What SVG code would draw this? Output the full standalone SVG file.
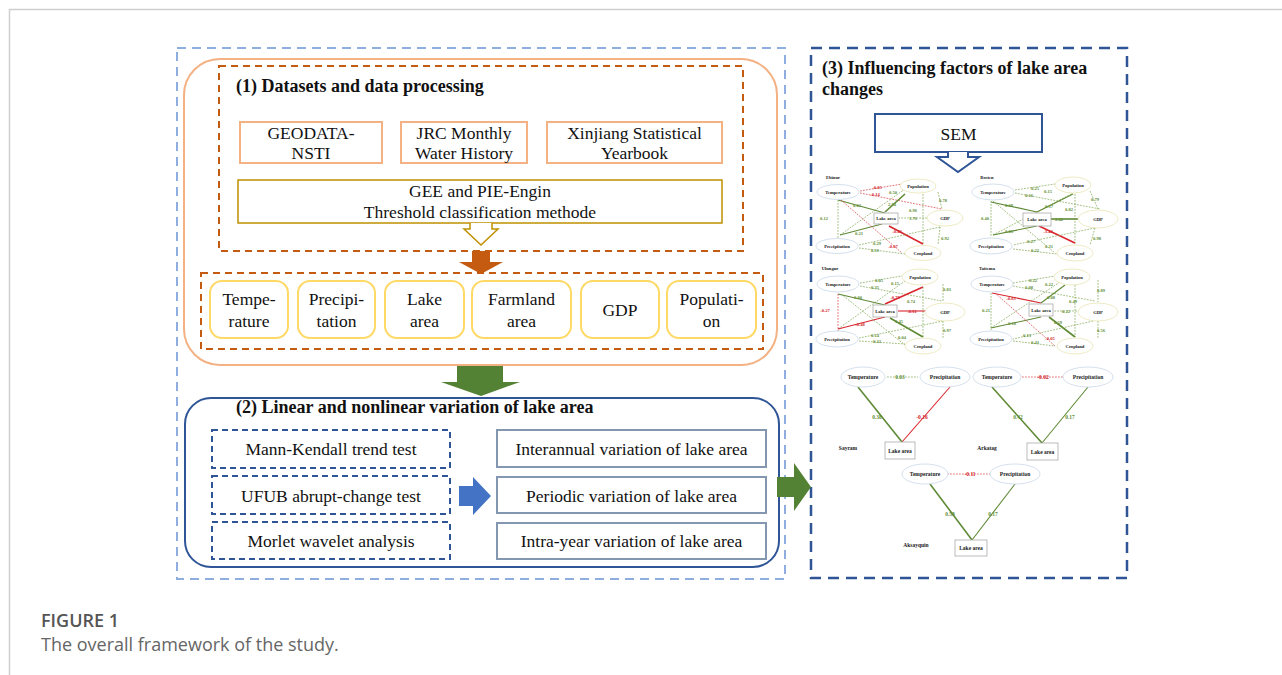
<svg xmlns="http://www.w3.org/2000/svg" width="1282" height="675" viewBox="0 0 1282 675">
<defs>
<style>
.ttl{font-family:"Liberation Serif","Times New Roman",serif;font-weight:bold;font-size:18px;fill:#111}
.t17{font-family:"Liberation Serif","Times New Roman",serif;font-size:17.5px;fill:#111;text-anchor:middle}
.t16{font-family:"Liberation Serif","Times New Roman",serif;font-size:17.5px;fill:#111;text-anchor:middle}
.src{fill:#fff;stroke:#f4b183;stroke-width:2}
.ybox{fill:#fff;stroke:#ffd966;stroke-width:2}
.bdash{fill:none;stroke:#2f5597;stroke-width:2;stroke-dasharray:6 4}
.gbox{fill:#fff;stroke:#8497b0;stroke-width:2}
.odash{fill:none;stroke:#c55a11;stroke-width:2;stroke-dasharray:7 5}
.et{fill:#fff;stroke:#c9d8e8;stroke-width:0.8}
.ey{fill:#fff;stroke:#e9e6b6;stroke-width:0.8}
.lk{fill:#fff;stroke:#aaa;stroke-width:0.8}
.nt{font-family:"Liberation Serif",serif;font-weight:bold;font-size:4.6px;fill:#222;text-anchor:middle}
.ng{font-family:"Liberation Serif",serif;font-weight:bold;font-size:4.6px;fill:#5f8f35;text-anchor:middle}
.nr{font-family:"Liberation Serif",serif;font-weight:bold;font-size:4.6px;fill:#d2232a;text-anchor:middle}
.gd{fill:none;stroke:#7aa34c;stroke-width:0.7;stroke-dasharray:1.8 1.2}
.rd{fill:none;stroke:#d9363e;stroke-width:0.7;stroke-dasharray:1.8 1.2}
.gs{fill:none;stroke:#5f8a35;stroke-width:1.1}
.gt{fill:none;stroke:#5f8a35;stroke-width:1.6}
.rs{fill:none;stroke:#d9262e;stroke-width:1.1}
.rt{fill:none;stroke:#d9262e;stroke-width:1.6}
.nt2{font-family:"Liberation Serif",serif;font-weight:bold;font-size:5.5px;fill:#222;text-anchor:middle}
.ng2{font-family:"Liberation Serif",serif;font-weight:bold;font-size:5.5px;fill:#5f8f35;text-anchor:middle}
.nr2{font-family:"Liberation Serif",serif;font-weight:bold;font-size:5.5px;fill:#d2232a;text-anchor:middle}
</style>
</defs>
<rect width="1282" height="675" fill="#fff"/>
<path d="M9.5 675 V9.5 H1282" fill="none" stroke="#cfcfcf" stroke-width="1.5"/>

<!-- outer frame left -->
<rect x="177" y="48" width="608" height="531" fill="none" stroke="#8eaee0" stroke-width="2" stroke-dasharray="9 6"/>

<!-- panel 1 -->
<g id="panel1">
<rect x="184" y="59" width="593" height="306" rx="36" fill="#fff" stroke="#f4b183" stroke-width="2"/>
<rect x="219" y="66" width="524" height="185" class="odash"/>
<text x="236" y="92" class="ttl">(1) Datasets and data processing</text>
</g>
<g id="geodata"><rect x="240" y="122" width="142" height="41" class="src"/><text x="311" y="139" class="t17">GEODATA-</text><text x="311" y="159" class="t17">NSTI</text></g>
<g id="jrc"><rect x="401" y="122" width="126" height="41" class="src"/><text x="464" y="139" class="t17">JRC Monthly</text><text x="464" y="159" class="t17">Water History</text></g>
<g id="xinjiang"><rect x="547" y="122" width="175" height="41" class="src"/><text x="634.5" y="139" class="t17">Xinjiang  Statistical</text><text x="634.5" y="159" class="t17">Yearbook</text></g>
<g id="gee"><rect x="238" y="180" width="484" height="43" fill="#fff" stroke="#bf9000" stroke-width="1.5"/><text x="480" y="197" class="t17">GEE and PIE-Engin</text><text x="480" y="218" class="t17">Threshold classification methode</text></g>

<g id="factors">
<rect x="201" y="273" width="562" height="76" class="odash"/>
</g>
<g id="temp"><rect x="210" y="281" width="78" height="57" rx="12" class="ybox"/><text x="249" y="305" class="t17">Tempe-</text><text x="249" y="327" class="t17">rature</text></g>
<g id="precip"><rect x="298" y="281" width="77" height="57" rx="12" class="ybox"/><text x="336.5" y="305" class="t17">Precipi-</text><text x="336.5" y="327" class="t17">tation</text></g>
<g id="lake"><rect x="385" y="281" width="79" height="57" rx="12" class="ybox"/><text x="424.5" y="305" class="t17">Lake</text><text x="424.5" y="327" class="t17">area</text></g>
<g id="farmland"><rect x="472" y="281" width="99" height="57" rx="12" class="ybox"/><text x="521.5" y="305" class="t17">Farmland</text><text x="521.5" y="327" class="t17">area</text></g>
<g id="gdp"><rect x="581" y="281" width="78" height="57" rx="12" class="ybox"/><text x="620" y="316" class="t17">GDP</text></g>
<g id="population"><rect x="667" y="281" width="89" height="57" rx="12" class="ybox"/><text x="711.5" y="305" class="t17">Populati-</text><text x="711.5" y="327" class="t17">on</text></g>

<!-- panel 2 -->
<g id="panel2">
<rect x="185" y="398" width="594" height="169" rx="26" fill="#fff" stroke="#2f5597" stroke-width="2"/>
<text x="236" y="413" class="ttl">(2) Linear and nonlinear variation of lake area</text>
</g>
<g id="mk"><rect x="212" y="430" width="238" height="38" class="bdash"/><text x="331" y="455" class="t16">Mann-Kendall trend test</text></g>
<g id="ufub"><rect x="212" y="476" width="238" height="38" class="bdash"/><text x="331" y="502" class="t16">UFUB  abrupt-change test</text></g>
<g id="morlet"><rect x="212" y="522" width="238" height="37" class="bdash"/><text x="331" y="547" class="t16">Morlet wavelet analysis</text></g>
<g id="interannual"><rect x="497" y="430" width="269" height="37" class="gbox"/><text x="631.5" y="455" class="t16">Interannual variation of lake area</text></g>
<g id="periodic"><rect x="497" y="477" width="269" height="36" class="gbox"/><text x="631.5" y="502" class="t16">Periodic variation of lake area</text></g>
<g id="intra"><rect x="497" y="523" width="269" height="36" class="gbox"/><text x="631.5" y="547" class="t16">Intra-year variation of lake area</text></g>

<!-- panel 3 -->
<g id="panel3">
<rect x="811" y="48" width="316" height="530" fill="none" stroke="#2f5597" stroke-width="2.5" stroke-dasharray="11 7"/>
<text x="822" y="74" class="ttl">(3) Influencing factors of lake area</text>
<text x="822" y="95" class="ttl">changes</text>
</g>
<g id="sem"><rect x="875" y="114" width="167" height="38" fill="#fff" stroke="#2f5597" stroke-width="2"/><text x="958.5" y="140" class="t16">SEM</text></g>

<!-- connectors -->
<g id="connectors">
<path d="M470 223 V229 H464 L481 245 L498 229 H492 V223" fill="#fff" stroke="#bf9000" stroke-width="1.5"/>
<path d="M472 251 H490 V262 H503 L481 274 L459 262 H472 Z" fill="#c55a11"/>
<path d="M457 366 H503 V382 H520 L481 396 L441 382 H457 Z" fill="#548235"/>
<path d="M459 486 H473 V477 L491 496 L473 515 V506 H459 Z" fill="#4472c4"/>
<path d="M777 477 H794 V463 L811 487 L794 511 V497 H777 Z" fill="#548235"/>
<path d="M948 152 V157 H937 L958 172 L979 157 H968 V152" fill="#fff" stroke="#2f5597" stroke-width="2"/>
</g>

<!-- SEM: Ebinur -->
<g id="sem-ebinur" transform="translate(805,165)">
<line x1="55" y1="26" x2="97" y2="19" class="rd"/>
<line x1="55" y1="28" x2="137" y2="44" class="rd"/>
<line x1="35" y1="70" x2="100" y2="24" class="gd"/>
<line x1="133" y1="27" x2="137" y2="44" class="gd"/>
<line x1="33" y1="35" x2="80" y2="48" class="gs"/>
<line x1="100" y1="29" x2="80" y2="47" class="gt"/>
<line x1="118" y1="29" x2="118" y2="80" class="gd"/>
<line x1="122" y1="53" x2="94" y2="53" class="gd"/>
<line x1="33" y1="35" x2="33" y2="73" class="gd"/>
<line x1="35" y1="70" x2="77" y2="59" class="gs"/>
<line x1="118" y1="79" x2="84" y2="61" class="rt"/>
<line x1="36" y1="35" x2="97" y2="88" class="rd"/>
<line x1="135" y1="62" x2="54" y2="80" class="gd"/>
<line x1="54" y1="83" x2="100" y2="89" class="gd"/>
<line x1="135" y1="62" x2="133" y2="80" class="gd"/>
<ellipse cx="33" cy="27" rx="21" ry="7.5" class="et"/><text x="33" y="28.5" class="nt">Temperature</text>
<ellipse cx="113" cy="21" rx="18" ry="7" class="ey"/><text x="113" y="22.5" class="nt">Population</text>
<ellipse cx="140" cy="53" rx="18" ry="8" class="ey"/><text x="140" y="54.5" class="nt">GDP</text>
<ellipse cx="118" cy="88" rx="18" ry="7.5" class="ey"/><text x="118" y="89.5" class="nt">Cropland</text>
<ellipse cx="32" cy="81" rx="21" ry="7.5" class="et"/><text x="32" y="82.5" class="nt">Precipitation</text>
<rect x="69" y="48" width="24" height="11" class="lk"/><text x="81" y="55" class="nt">Lake area</text>
<text x="28" y="14" class="nt">Ebinur</text>
<text x="72" y="24" class="nr">-0.05</text><text x="70" y="31" class="nr">-0.14</text>
<text x="88" y="29" class="ng">0.50</text><text x="138" y="37" class="ng">0.78</text>
<text x="52" y="42" class="ng">0.02</text><text x="87" y="41" class="ng">2.94</text>
<text x="108" y="47" class="ng">0.96</text><text x="108" y="55" class="ng">1.76</text>
<text x="19" y="55" class="ng">0.12</text><text x="54" y="70" class="ng">0.21</text>
<text x="92" y="68" class="nr">-0.43</text><text x="88" y="83" class="nr">-0.07</text>
<text x="72" y="80" class="ng">0.29</text><text x="70" y="87" class="ng">0.33</text>
<text x="140" y="75" class="ng">0.92</text>
</g>

<!-- SEM: Bosten -->
<g id="sem-bosten" transform="translate(965,165)">
<line x1="50" y1="25" x2="90" y2="19" class="gd"/>
<line x1="50" y1="28" x2="135" y2="44" class="gd"/>
<line x1="28" y1="70" x2="108" y2="28" class="gd"/>
<line x1="125" y1="26" x2="133" y2="44" class="gd"/>
<line x1="26" y1="37" x2="72" y2="47" class="gs"/>
<line x1="108" y1="29" x2="72" y2="47" class="gs"/>
<line x1="110" y1="29" x2="110" y2="80" class="gd"/>
<line x1="115" y1="54" x2="86" y2="54" class="gt"/>
<line x1="26" y1="36" x2="26" y2="72" class="gd"/>
<line x1="28" y1="70" x2="72" y2="61" class="gs"/>
<line x1="110" y1="78" x2="74" y2="61" class="rt"/>
<line x1="28" y1="36" x2="90" y2="88" class="gd"/>
<line x1="130" y1="63" x2="48" y2="80" class="gd"/>
<line x1="48" y1="84" x2="92" y2="89" class="gd"/>
<line x1="130" y1="63" x2="125" y2="80" class="gd"/>
<ellipse cx="28" cy="27" rx="21" ry="8" class="et"/><text x="28" y="28.5" class="nt">Temperature</text>
<ellipse cx="108" cy="20" rx="18" ry="8" class="ey"/><text x="108" y="21.5" class="nt">Population</text>
<ellipse cx="133" cy="54" rx="20" ry="9" class="ey"/><text x="133" y="55.5" class="nt">GDP</text>
<ellipse cx="110" cy="88" rx="18" ry="8" class="ey"/><text x="110" y="89.5" class="nt">Cropland</text>
<ellipse cx="26" cy="81" rx="21" ry="8" class="et"/><text x="26" y="82.5" class="nt">Precipitation</text>
<rect x="58" y="48" width="28" height="13" class="lk"/><text x="72" y="56" class="nt">Lake area</text>
<text x="22" y="14" class="nt">Bosten</text>
<text x="70" y="25" class="ng">0.25</text><text x="64" y="32" class="ng">0.16</text>
<text x="83" y="28" class="ng">0.15</text><text x="130" y="36" class="ng">0.79</text>
<text x="44" y="42" class="ng">0.09</text><text x="84" y="43" class="ng">0.37</text>
<text x="104" y="46" class="ng">0.82</text><text x="94" y="55.5" class="ng">2.42</text>
<text x="20" y="55" class="ng">0.40</text><text x="44" y="68" class="ng">0.06</text>
<text x="83" y="68" class="nr">-3.44</text><text x="84" y="83" class="ng">0.31</text>
<text x="66" y="78" class="ng">0.27</text><text x="70" y="87" class="ng">0.22</text>
<text x="132" y="75" class="ng">0.98</text>
</g>

<!-- SEM: Ulungur -->
<g id="sem-ulungur" transform="translate(805,260)">
<line x1="55" y1="23" x2="97" y2="16" class="gd"/>
<line x1="55" y1="26" x2="137" y2="41" class="gd"/>
<line x1="33" y1="69" x2="100" y2="21" class="gd"/>
<line x1="138" y1="24" x2="138" y2="42" class="gd"/>
<line x1="33" y1="34" x2="80" y2="45" class="gs"/>
<line x1="118" y1="27" x2="80" y2="44" class="rt"/>
<line x1="118" y1="27" x2="118" y2="77" class="gd"/>
<line x1="125" y1="51" x2="93" y2="51" class="rs"/>
<line x1="33" y1="34" x2="33" y2="71" class="rd"/>
<line x1="33" y1="69" x2="80" y2="57" class="rs"/>
<line x1="118" y1="77" x2="85" y2="58" class="gt"/>
<line x1="36" y1="34" x2="100" y2="85" class="gd"/>
<line x1="138" y1="61" x2="54" y2="78" class="gd"/>
<line x1="54" y1="81" x2="100" y2="84" class="gd"/>
<line x1="138" y1="61" x2="138" y2="78" class="gd"/>
<ellipse cx="33" cy="24" rx="21" ry="8" class="et"/><text x="33" y="25.5" class="nt">Temperature</text>
<ellipse cx="115" cy="17" rx="18" ry="8" class="ey"/><text x="115" y="18.5" class="nt">Population</text>
<ellipse cx="140" cy="52" rx="20" ry="9" class="ey"/><text x="140" y="53.5" class="nt">GDP</text>
<ellipse cx="118" cy="86" rx="18" ry="8" class="ey"/><text x="118" y="87.5" class="nt">Cropland</text>
<ellipse cx="32" cy="79" rx="21" ry="8" class="et"/><text x="32" y="80.5" class="nt">Precipitation</text>
<rect x="68" y="45" width="24" height="12" class="lk"/><text x="80" y="52.5" class="nt">Lake area</text>
<text x="25" y="10" class="nt">Ulungur</text>
<text x="74" y="22" class="ng">0.05</text><text x="70" y="29" class="ng">0.35</text>
<text x="90" y="25" class="ng">0.15</text><text x="142" y="31" class="ng">0.83</text>
<text x="53" y="39" class="ng">0.00</text><text x="90" y="39" class="nr">-0.75</text>
<text x="106" y="43" class="ng">0.74</text><text x="107" y="53" class="nr">-0.61</text>
<text x="20" y="52" class="nr">-0.27</text><text x="55" y="66" class="nr">-0.48</text>
<text x="94" y="63" class="ng">1.45</text><text x="70" y="77" class="ng">0.14</text>
<text x="72" y="83" class="ng">0.22</text><text x="97" y="79" class="ng">0.04</text>
<text x="142" y="72" class="ng">0.97</text>
</g>

<!-- SEM: Taitema -->
<g id="sem-taitema" transform="translate(965,260)">
<line x1="48" y1="23" x2="90" y2="16" class="gd"/>
<line x1="48" y1="26" x2="130" y2="41" class="gd"/>
<line x1="26" y1="68" x2="95" y2="22" class="gd"/>
<line x1="133" y1="20" x2="133" y2="42" class="gd"/>
<line x1="27" y1="33" x2="76" y2="43" class="rs"/>
<line x1="100" y1="25" x2="76" y2="43" class="gs"/>
<line x1="110" y1="25" x2="110" y2="77" class="gd"/>
<line x1="115" y1="51" x2="88" y2="51" class="gd"/>
<line x1="26" y1="33" x2="26" y2="70" class="gd"/>
<line x1="26" y1="68" x2="76" y2="57" class="gs"/>
<line x1="110" y1="77" x2="84" y2="57" class="gt"/>
<line x1="30" y1="33" x2="90" y2="86" class="rd"/>
<line x1="128" y1="61" x2="48" y2="79" class="gd"/>
<line x1="48" y1="81" x2="90" y2="86" class="gd"/>
<line x1="133" y1="61" x2="133" y2="78" class="gd"/>
<ellipse cx="27" cy="24" rx="21" ry="8" class="et"/><text x="27" y="25.5" class="nt">Temperature</text>
<ellipse cx="107" cy="17" rx="18" ry="8" class="ey"/><text x="107" y="18.5" class="nt">Population</text>
<ellipse cx="133" cy="52" rx="20" ry="9" class="ey"/><text x="133" y="53.5" class="nt">GDP</text>
<ellipse cx="110" cy="86" rx="18" ry="8" class="ey"/><text x="110" y="87.5" class="nt">Cropland</text>
<ellipse cx="26" cy="79" rx="21" ry="8" class="et"/><text x="26" y="80.5" class="nt">Precipitation</text>
<rect x="64" y="44" width="24" height="12" class="lk"/><text x="76" y="51.5" class="nt">Lake area</text>
<text x="22" y="10" class="nt">Taitema</text>
<text x="68" y="22" class="ng">0.22</text><text x="64" y="29" class="ng">0.08</text>
<text x="84" y="26" class="ng">0.22</text><text x="136" y="32" class="ng">0.89</text>
<text x="46" y="40" class="nr">-0.83</text><text x="86" y="39" class="ng">0.08</text>
<text x="108" y="43" class="ng">0.49</text><text x="101" y="53" class="ng">0.22</text>
<text x="21" y="52" class="ng">0.21</text><text x="47" y="65" class="ng">0.18</text>
<text x="93" y="64" class="ng">0.59</text><text x="85" y="80" class="nr">-0.05</text>
<text x="62" y="77" class="ng">0.13</text><text x="70" y="84" class="ng">0.43</text>
<text x="136" y="72" class="ng">0.56</text>
</g>

<!-- SEM: Sayram -->
<g id="sem-sayram">
<line x1="887" y1="377" x2="918" y2="377" class="gd"/>
<line x1="858" y1="387" x2="902" y2="442" class="gt"/>
<line x1="950" y1="387" x2="902" y2="442" class="rs"/>
<ellipse cx="863" cy="377" rx="22" ry="10" class="et"/><text x="863" y="379" class="nt2">Temperature</text>
<ellipse cx="945" cy="377" rx="25" ry="10" class="et"/><text x="945" y="379" class="nt2">Precipitation</text>
<rect x="885" y="442" width="30" height="17" class="lk"/><text x="900" y="452.5" class="nt2">Lake area</text>
<text x="900" y="379" class="ng2">0.03</text>
<text x="877" y="419" class="ng2">0.38</text><text x="922" y="419" class="nr2">-0.16</text>
<text x="848" y="450" class="nt2">Sayram</text>
</g>
<!-- SEM: Arkatag -->
<g id="sem-arkatag">
<line x1="1022" y1="377" x2="1063" y2="377" class="rd"/>
<line x1="992" y1="387" x2="1042" y2="443" class="gt"/>
<line x1="1088" y1="387" x2="1042" y2="443" class="gs"/>
<ellipse cx="997" cy="377" rx="24" ry="10" class="et"/><text x="997" y="379" class="nt2">Temperature</text>
<ellipse cx="1088" cy="377" rx="25" ry="10" class="et"/><text x="1088" y="379" class="nt2">Precipitation</text>
<rect x="1027" y="443" width="31" height="17" class="lk"/><text x="1042.5" y="453.5" class="nt2">Lake area</text>
<text x="1043" y="379" class="nr2">-0.02</text>
<text x="1018" y="419" class="ng2">0.42</text><text x="1070" y="419" class="ng2">0.17</text>
<text x="987" y="450" class="nt2">Arkatag</text>
</g>
<!-- SEM: Aksayquin -->
<g id="sem-aksayquin">
<line x1="947" y1="474" x2="993" y2="474" class="rd"/>
<line x1="930" y1="484" x2="972" y2="540" class="gt"/>
<line x1="1015" y1="484" x2="972" y2="540" class="gs"/>
<ellipse cx="925" cy="474" rx="23" ry="10" class="et"/><text x="925" y="476" class="nt2">Temperature</text>
<ellipse cx="1015" cy="474" rx="25" ry="10" class="et"/><text x="1015" y="476" class="nt2">Precipitation</text>
<rect x="955" y="540" width="32" height="16" class="lk"/><text x="971" y="550" class="nt2">Lake area</text>
<text x="970" y="476" class="nr2">-0.11</text>
<text x="950" y="516" class="ng2">0.58</text><text x="993" y="516" class="ng2">0.17</text>
<text x="916" y="547" class="nt2">Aksayquin</text>
</g>

<!-- caption -->
<text x="41" y="627" font-family="'Open Sans',sans-serif" font-weight="600" font-size="18" fill="#555">FIGURE 1</text>
<text x="41" y="651" font-family="'Open Sans',sans-serif" font-size="18" fill="#666">The overall framework of the study.</text>
</svg>
